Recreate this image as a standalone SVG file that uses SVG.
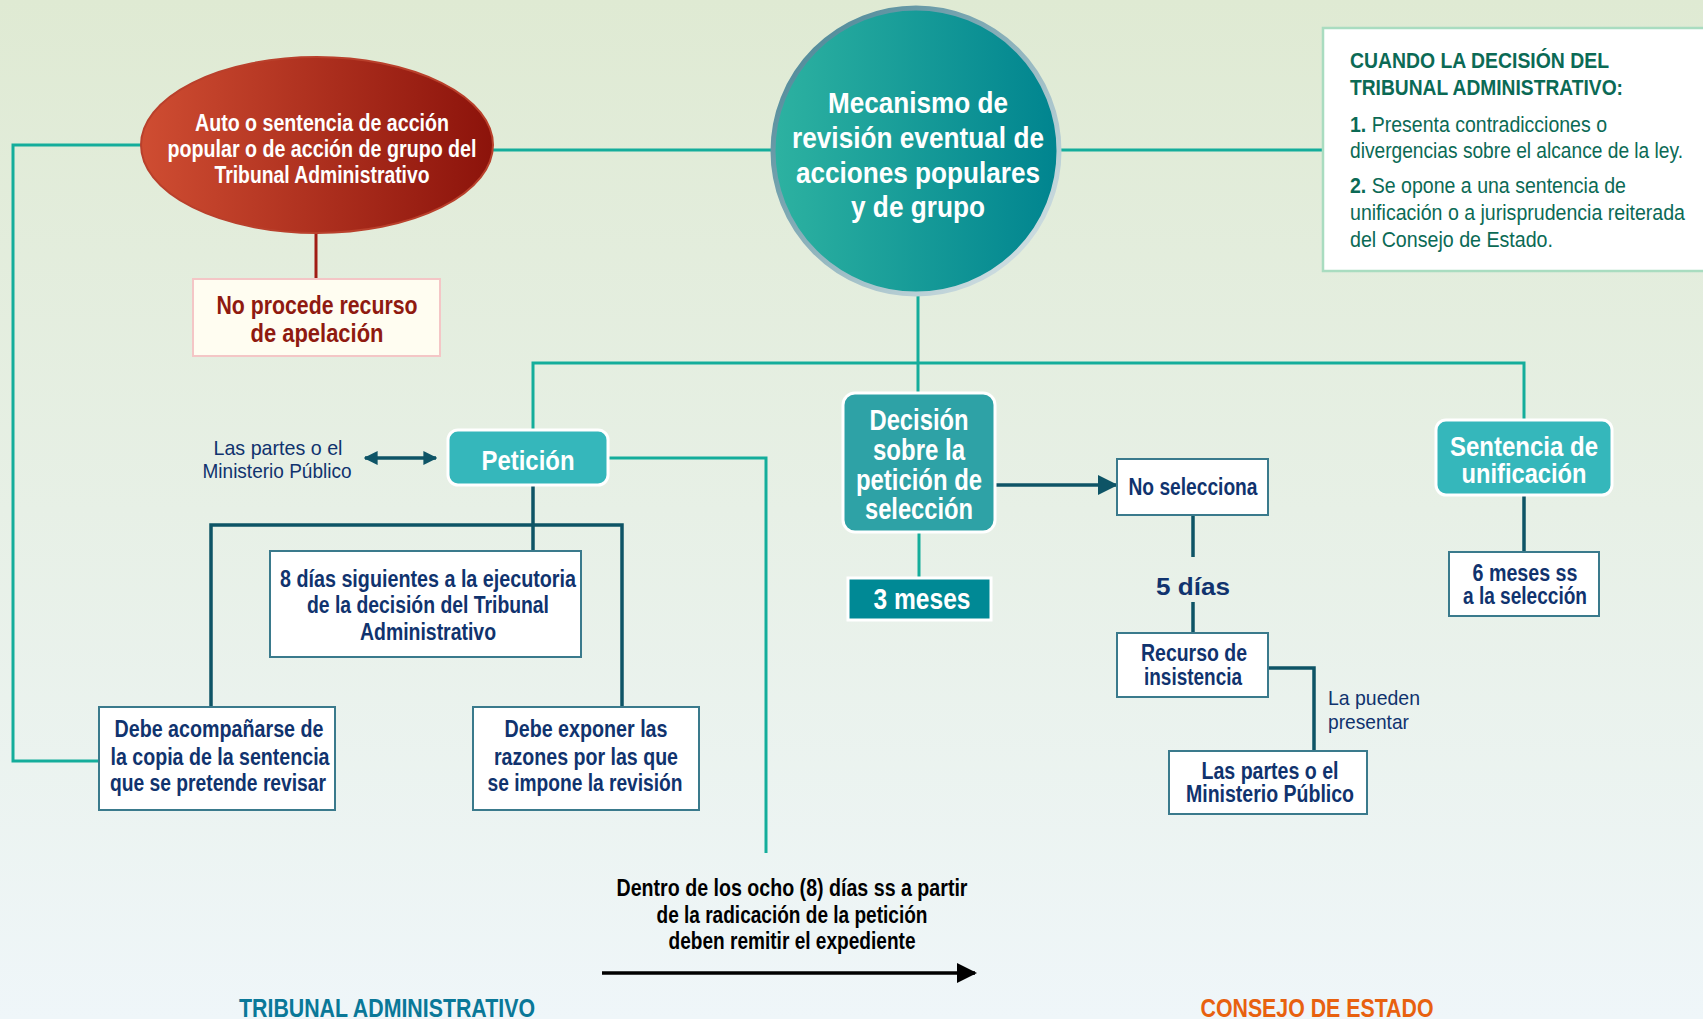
<svg xmlns="http://www.w3.org/2000/svg" width="1703" height="1019" viewBox="0 0 1703 1019">
<defs>
<linearGradient id="bg" x1="0" y1="0" x2="0" y2="1">
<stop offset="0" stop-color="#dfead3"/>
<stop offset="1" stop-color="#eff6f9"/>
</linearGradient>
<linearGradient id="redg" x1="0" y1="0" x2="1" y2="0">
<stop offset="0" stop-color="#cf4d32"/>
<stop offset="1" stop-color="#8c130b"/>
</linearGradient>
<linearGradient id="tealg" x1="0" y1="0" x2="1" y2="0">
<stop offset="0" stop-color="#2db2a1"/>
<stop offset="1" stop-color="#00848f"/>
</linearGradient>
<linearGradient id="ringg" x1="0" y1="0" x2="1" y2="1">
<stop offset="0" stop-color="#3f7f90"/>
<stop offset="1" stop-color="#e2eaec"/>
</linearGradient>
<marker id="dk" viewBox="0 0 10 10" refX="9" refY="5" markerWidth="14" markerHeight="14" markerUnits="userSpaceOnUse" orient="auto-start-reverse">
<path d="M0,0 L10,5 L0,10 z" fill="#0e5466"/>
</marker>
<marker id="dkbig" viewBox="0 0 10 10" refX="9" refY="5" markerWidth="20" markerHeight="22" markerUnits="userSpaceOnUse" orient="auto">
<path d="M0,0 L10,5 L0,10 z" fill="#0e5466"/>
</marker>
<marker id="blk" viewBox="0 0 10 10" refX="9" refY="5" markerWidth="20" markerHeight="22" markerUnits="userSpaceOnUse" orient="auto">
<path d="M0,0 L10,5 L0,10 z" fill="#000"/>
</marker>
</defs>
<style>
text{font-family:"Liberation Sans Narrow","Liberation Sans",Arial,sans-serif;}
.wb{fill:#fff;font-weight:bold;text-anchor:middle;}
.nv{fill:#10336e;font-weight:bold;text-anchor:middle;font-size:23px;}
.nr{fill:#10336e;font-size:21px;}
.tl{fill:none;stroke:#14ad9b;stroke-width:3;}
.dk{fill:none;stroke:#0e5466;stroke-width:3.5;}
.wbox{fill:#fff;stroke:#3a7a8c;stroke-width:2;}
.tbox{fill:#35b7bb;stroke:#fff;stroke-width:3;}
.pn{fill:#0b6a55;font-size:21.5px;}
</style>
<rect x="0" y="0" width="1703" height="1019" fill="url(#bg)"/>

<g id="connectors">
<path class="tl" d="M141,145 H13 V761 H99"/>
<path class="tl" d="M492,150 H772"/>
<path class="tl" d="M1060,150 H1323"/>
<path class="tl" d="M918,295 V393"/>
<path class="tl" d="M533,430 V363 H1524 V420"/>
<path class="tl" d="M919,532 V578"/>
<path class="tl" d="M608,458 H766 V853"/>
<path d="M316,232 V279" fill="none" stroke="#a01c14" stroke-width="3"/>
<path class="dk" d="M533,485 V551"/>
<path class="dk" d="M211,707 V525 H622 V707"/>
<path class="dk" d="M365,458 H436" marker-start="url(#dk)" marker-end="url(#dk)"/>
<path class="dk" d="M995,485 H1116" marker-end="url(#dkbig)"/>
<path class="dk" d="M1193,515 V557 M1193,602 V633"/>
<path class="dk" d="M1268,668 H1314 V751"/>
<path class="dk" d="M1524,495 V552"/>
<path d="M602,973 H975" fill="none" stroke="#000" stroke-width="3.5" marker-end="url(#blk)"/>
</g>

<g id="auto">
<ellipse cx="317" cy="145" rx="176" ry="88" fill="url(#redg)" stroke="#b9402c" stroke-width="2"/>
<text class="wb" font-size="23"><tspan x="322" y="131" textLength="254" lengthAdjust="spacingAndGlyphs">Auto o sentencia de acción</tspan><tspan x="322" y="157" textLength="309" lengthAdjust="spacingAndGlyphs">popular o de acción de grupo del</tspan><tspan x="322" y="183" textLength="215" lengthAdjust="spacingAndGlyphs">Tribunal Administrativo</tspan></text>
</g>

<g id="no-procede">
<rect x="193" y="279" width="247" height="77" fill="#fffdf1" stroke="#f4c6c6" stroke-width="2"/>
<text fill="#8f1a10" font-weight="bold" text-anchor="middle" font-size="26"><tspan x="317" y="314" textLength="201" lengthAdjust="spacingAndGlyphs">No procede recurso</tspan><tspan x="317" y="342" textLength="133" lengthAdjust="spacingAndGlyphs">de apelación</tspan></text>
</g>

<g id="mecanismo">
<circle cx="916" cy="151" r="143" fill="url(#tealg)" stroke="url(#ringg)" stroke-width="5"/>
<text class="wb" font-size="29"><tspan x="918" y="113" textLength="180" lengthAdjust="spacingAndGlyphs">Mecanismo de</tspan><tspan x="918" y="148" textLength="252" lengthAdjust="spacingAndGlyphs">revisión eventual de</tspan><tspan x="918" y="183" textLength="244" lengthAdjust="spacingAndGlyphs">acciones populares</tspan><tspan x="918" y="217" textLength="134" lengthAdjust="spacingAndGlyphs">y de grupo</tspan></text>
</g>

<g id="cuando">
<rect x="1323" y="28" width="390" height="243" fill="#fff" stroke="#a9dcc0" stroke-width="2.5"/>
<text class="pn" font-weight="bold" x="1350" y="68" textLength="259" lengthAdjust="spacingAndGlyphs">CUANDO LA DECISIÓN DEL</text>
<text class="pn" font-weight="bold" x="1350" y="95" textLength="273" lengthAdjust="spacingAndGlyphs">TRIBUNAL ADMINISTRATIVO:</text>
<text class="pn" x="1350" y="132" textLength="257" lengthAdjust="spacingAndGlyphs"><tspan font-weight="bold">1.</tspan> Presenta contradicciones o</text>
<text class="pn" x="1350" y="158" textLength="333" lengthAdjust="spacingAndGlyphs">divergencias sobre el alcance de la ley.</text>
<text class="pn" x="1350" y="193" textLength="276" lengthAdjust="spacingAndGlyphs"><tspan font-weight="bold">2.</tspan> Se opone a una sentencia de</text>
<text class="pn" x="1350" y="220" textLength="335" lengthAdjust="spacingAndGlyphs">unificación o a jurisprudencia reiterada</text>
<text class="pn" x="1350" y="247" textLength="203" lengthAdjust="spacingAndGlyphs">del Consejo de Estado.</text>
</g>

<g id="partes-izq">
<text class="nr" text-anchor="middle" font-size="22"><tspan x="278" y="455" textLength="129" lengthAdjust="spacingAndGlyphs">Las partes o el</tspan><tspan x="277" y="478" textLength="149" lengthAdjust="spacingAndGlyphs">Ministerio Público</tspan></text>
</g>

<g id="peticion">
<rect class="tbox" x="448" y="430" width="160" height="55" rx="10"/>
<text class="wb" font-size="28" x="528" y="470" textLength="93" lengthAdjust="spacingAndGlyphs">Petición</text>
</g>

<g id="ocho-dias">
<rect class="wbox" x="270" y="551" width="311" height="106"/>
<text class="nv"><tspan x="428" y="587" textLength="296" lengthAdjust="spacingAndGlyphs">8 días siguientes a la ejecutoria</tspan><tspan x="428" y="613" textLength="242" lengthAdjust="spacingAndGlyphs">de la decisión del Tribunal</tspan><tspan x="428" y="640" textLength="136" lengthAdjust="spacingAndGlyphs">Administrativo</tspan></text>
</g>

<g id="acompanarse">
<rect class="wbox" x="99" y="707" width="236" height="103"/>
<text class="nv"><tspan x="219" y="737" textLength="209" lengthAdjust="spacingAndGlyphs">Debe acompañarse de</tspan><tspan x="220" y="765" textLength="219" lengthAdjust="spacingAndGlyphs">la copia de la sentencia</tspan><tspan x="218" y="791" textLength="216" lengthAdjust="spacingAndGlyphs">que se pretende revisar</tspan></text>
</g>

<g id="exponer">
<rect class="wbox" x="473" y="707" width="226" height="103"/>
<text class="nv"><tspan x="586" y="737" textLength="163" lengthAdjust="spacingAndGlyphs">Debe exponer las</tspan><tspan x="586" y="765" textLength="184" lengthAdjust="spacingAndGlyphs">razones por las que</tspan><tspan x="585" y="791" textLength="195" lengthAdjust="spacingAndGlyphs">se impone la revisión</tspan></text>
</g>

<g id="decision">
<rect x="843" y="393" width="152" height="139" rx="12" fill="#2ea2a6" stroke="#fff" stroke-width="3"/>
<text class="wb" font-size="29"><tspan x="919" y="430" textLength="99" lengthAdjust="spacingAndGlyphs">Decisión</tspan><tspan x="919" y="460" textLength="92" lengthAdjust="spacingAndGlyphs">sobre la</tspan><tspan x="919" y="490" textLength="126" lengthAdjust="spacingAndGlyphs">petición de</tspan><tspan x="919" y="519" textLength="108" lengthAdjust="spacingAndGlyphs">selección</tspan></text>
</g>

<g id="tres-meses">
<rect x="848" y="578" width="143" height="42" fill="#008995" stroke="#fff" stroke-width="3"/>
<text class="wb" font-size="29" x="922" y="609" textLength="97" lengthAdjust="spacingAndGlyphs">3 meses</text>
</g>

<g id="no-selecciona">
<rect class="wbox" x="1117" y="459" width="151" height="56"/>
<text class="nv" x="1193" y="495" textLength="129" lengthAdjust="spacingAndGlyphs">No selecciona</text>
</g>

<g id="cinco-dias">
<text class="nv" font-size="32" x="1193" y="595" textLength="74" lengthAdjust="spacingAndGlyphs">5 días</text>
</g>

<g id="recurso">
<rect class="wbox" x="1117" y="633" width="151" height="64"/>
<text class="nv"><tspan x="1194" y="661" textLength="106" lengthAdjust="spacingAndGlyphs">Recurso de</tspan><tspan x="1193" y="685" textLength="98" lengthAdjust="spacingAndGlyphs">insistencia</tspan></text>
</g>

<g id="la-pueden">
<text class="nr" font-size="20"><tspan x="1328" y="705" textLength="92" lengthAdjust="spacingAndGlyphs">La pueden</tspan><tspan x="1328" y="729" textLength="81" lengthAdjust="spacingAndGlyphs">presentar</tspan></text>
</g>

<g id="partes-der">
<rect class="wbox" x="1169" y="751" width="198" height="63"/>
<text class="nv" font-size="22"><tspan x="1270" y="779" textLength="137" lengthAdjust="spacingAndGlyphs">Las partes o el</tspan><tspan x="1270" y="802" textLength="168" lengthAdjust="spacingAndGlyphs">Ministerio Público</tspan></text>
</g>

<g id="sentencia-unificacion">
<rect class="tbox" x="1436" y="420" width="176" height="75" rx="10"/>
<text class="wb" font-size="28"><tspan x="1524" y="456" textLength="148" lengthAdjust="spacingAndGlyphs">Sentencia de</tspan><tspan x="1524" y="483" textLength="125" lengthAdjust="spacingAndGlyphs">unificación</tspan></text>
</g>

<g id="seis-meses">
<rect class="wbox" x="1449" y="552" width="150" height="64"/>
<text class="nv" font-size="22"><tspan x="1525" y="581" textLength="105" lengthAdjust="spacingAndGlyphs">6 meses ss</tspan><tspan x="1525" y="604" textLength="124" lengthAdjust="spacingAndGlyphs">a la selección</tspan></text>
</g>

<g id="dentro">
<text fill="#000" font-weight="bold" text-anchor="middle" font-size="23"><tspan x="792" y="896" textLength="351" lengthAdjust="spacingAndGlyphs">Dentro de los ocho (8) días ss a partir</tspan><tspan x="792" y="923" textLength="271" lengthAdjust="spacingAndGlyphs">de la radicación de la petición</tspan><tspan x="792" y="949" textLength="247" lengthAdjust="spacingAndGlyphs">deben remitir el expediente</tspan></text>
</g>

<g id="tribunal-label">
<text fill="#0a7898" font-weight="bold" text-anchor="middle" font-size="25" x="387" y="1017" textLength="296" lengthAdjust="spacingAndGlyphs">TRIBUNAL ADMINISTRATIVO</text>
</g>
<g id="consejo-label">
<text fill="#e8610f" font-weight="bold" text-anchor="middle" font-size="25" x="1317" y="1017" textLength="233" lengthAdjust="spacingAndGlyphs">CONSEJO DE ESTADO</text>
</g>
</svg>
